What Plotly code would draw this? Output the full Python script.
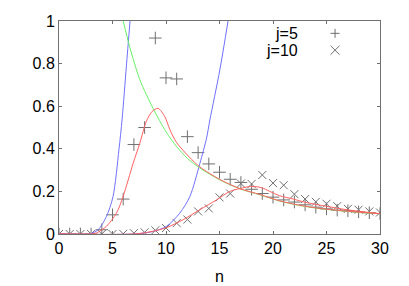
import plotly.graph_objects as go

# ---- data ----
n_pts = list(range(31))
j5 = [0, 0, 0, 0, 0.02, 0.09, 0.164, 0.42, 0.50, 0.92, 0.733, 0.728, 0.457, 0.382,
      0.329, 0.29, 0.257, 0.242, 0.21, 0.19, 0.173, 0.16, 0.15, 0.137, 0.126, 0.118,
      0.112, 0.109, 0.104, 0.10, 0.096]
j10 = [0, 0, 0, 0, 0, 0, 0.001, 0.004, 0.008, 0.017, 0.028, 0.051, 0.068, 0.106, 0.12,
       0.172, 0.19, 0.237, 0.235, 0.277, 0.239, 0.229, 0.187, 0.164, 0.151, 0.142,
       0.131, 0.118, 0.114, 0.106, 0.101]

green_x = [6.0, 6.6, 7.55, 8.79, 10.0, 11.0, 12.0, 13.16, 15.0, 16.9, 18.8, 20.6,
           22.5, 24.4, 26.3, 28.1, 30]
green_y = [1.0, 0.88, 0.725, 0.59, 0.48, 0.41, 0.355, 0.31, 0.255, 0.212, 0.184,
           0.155, 0.134, 0.119, 0.109, 0.101, 0.095]

red1_x = [0, 3.0, 3.5, 4.43, 5.37, 5.99, 6.93, 7.55, 8.17, 8.7, 9.26, 9.89, 10.36,
          10.98, 12.2, 13.16, 15.0, 16.9, 18.8, 20.6, 22.5, 24.4, 26.3, 28.1, 30]
red1_y = [0, 0, 0.005, 0.036, 0.098, 0.176, 0.332, 0.426, 0.53, 0.575, 0.59, 0.551,
          0.49, 0.43, 0.36, 0.315, 0.257, 0.213, 0.185, 0.156, 0.135, 0.12, 0.11,
          0.102, 0.096]

red2_x = [0, 7.0, 8.5, 10.05, 11.6, 13.16, 14.72, 15.97, 16.9, 17.9, 18.9, 19.7,
          20.6, 21.9, 23.1, 25.0, 26.9, 30]
red2_y = [0, 0, 0.01, 0.03, 0.067, 0.114, 0.16, 0.2, 0.213, 0.223, 0.218, 0.2,
          0.18, 0.164, 0.148, 0.13, 0.114, 0.095]

blue1_x = [0, 2.87, 3.65, 4.43, 5.05, 5.6, 5.9, 6.3, 6.64]
blue1_y = [0, 0, 0.02, 0.082, 0.176, 0.395, 0.54, 0.79, 1.0]

blue2_x = [0, 7.0, 8.79, 10.05, 11.29, 12.23, 13.16, 13.79, 14.1, 15.03, 15.8]
blue2_y = [0, 0, 0.012, 0.036, 0.098, 0.176, 0.33, 0.45, 0.535, 0.77, 1.0]

x_ticks = [0, 5, 10, 15, 20, 25, 30]
y_ticks = [0, 0.2, 0.4, 0.6, 0.8, 1]
y_tick_text = ["0", "0.2", "0.4", "0.6", "0.8", "1"]
legend_labels = ["j=5", "j=10"]

RED = "#ff6060"
GREEN = "#66f066"
BLUE = "#7070ff"
MARK = "#707070"

fig = go.Figure()

def curve(x, y, color):
    fig.add_trace(go.Scatter(x=x, y=y, mode="lines",
                             line=dict(color=color, width=1, shape="spline", smoothing=0.8),
                             showlegend=False, hoverinfo="skip"))

fig.add_trace(go.Scatter(x=n_pts, y=j5, mode="markers",
                         marker=dict(symbol="cross-thin", size=9,
                                     line=dict(color=MARK, width=1)),
                         showlegend=False))
fig.add_trace(go.Scatter(x=n_pts, y=j10, mode="markers",
                         marker=dict(symbol="x-thin", size=8,
                                     line=dict(color=MARK, width=1)),
                         showlegend=False))

curve(blue1_x, blue1_y, BLUE)
curve(blue2_x, blue2_y, BLUE)
curve(green_x, green_y, GREEN)
curve(red1_x, red1_y, RED)
curve(red2_x, red2_y, RED)

FONT = dict(family="Liberation Sans, Arial, sans-serif", size=16, color="black")

axis_common = dict(showgrid=False, zeroline=False, showline=True, linecolor="#707070",
                   linewidth=1, mirror="allticks", ticks="inside", ticklen=3,
                   tickcolor="#707070", tickfont=FONT, automargin=False)

fig.update_xaxes(range=[0, 30], tickvals=x_ticks, ticktext=[str(t) for t in x_ticks],
                 **axis_common)
fig.update_yaxes(range=[0, 1], tickvals=y_ticks, ticktext=y_tick_text, **axis_common)

# x-axis title as annotation (avoids automargin changes)
fig.add_annotation(x=0.5, y=-43 / 213.6, xref="paper", yref="paper", text="n",
                   showarrow=False, xanchor="center", yanchor="middle", font=FONT)

# manual gnuplot-style key (text right-aligned, sample to the right)
key_text_x = 0.751
key_sym_x = 0.86
key_y = [0.942, 0.863]
for lab, ky in zip(legend_labels, key_y):
    fig.add_annotation(x=key_text_x, y=ky, xref="paper", yref="paper", text=lab,
                       showarrow=False, xanchor="right", yanchor="middle", font=FONT)

dx, dy = 4.5 / 321, 4.5 / 213.6
fig.add_shape(type="line", xref="paper", yref="paper", x0=key_sym_x - dx, x1=key_sym_x + dx,
              y0=key_y[0], y1=key_y[0], line=dict(color=MARK, width=1))
fig.add_shape(type="line", xref="paper", yref="paper", x0=key_sym_x, x1=key_sym_x,
              y0=key_y[0] - dy, y1=key_y[0] + dy, line=dict(color=MARK, width=1))
fig.add_shape(type="line", xref="paper", yref="paper", x0=key_sym_x - dx, x1=key_sym_x + dx,
              y0=key_y[1] - dy, y1=key_y[1] + dy, line=dict(color=MARK, width=1))
fig.add_shape(type="line", xref="paper", yref="paper", x0=key_sym_x - dx, x1=key_sym_x + dx,
              y0=key_y[1] + dy, y1=key_y[1] - dy, line=dict(color=MARK, width=1))

fig.update_layout(width=409, height=286, margin=dict(l=59, r=29, t=21, b=52, autoexpand=False),
                  paper_bgcolor="white", plot_bgcolor="white", showlegend=False,
                  font=FONT)

fig.write_html("out.html", config={"displayModeBar": False, "staticPlot": True},
               post_script="document.body.style.margin='0';document.body.style.overflow='hidden';")
